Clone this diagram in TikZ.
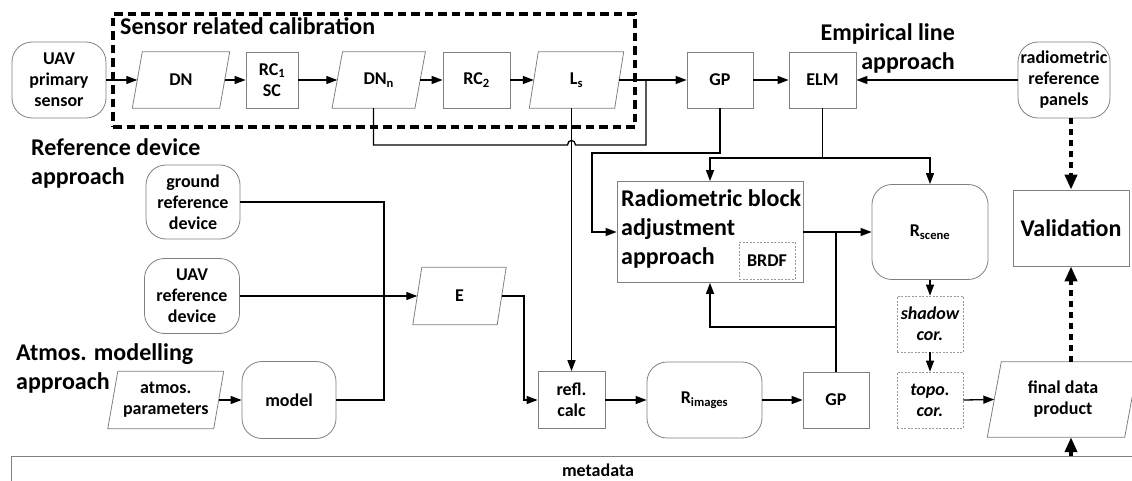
\documentclass[tikz,border=0pt]{standalone}
\usepackage{fontspec}
\setmainfont{Carlito}
\usetikzlibrary{arrows.meta,calc}
\newcommand\drawpara[2]{\draw[draw=black!50, line width=0.8pt] ($(#1.north west)+(#2,0)$) -- ($(#1.north east)+(#2,0)$) -- ($(#1.south east)-(#2,0)$) -- ($(#1.south west)-(#2,0)$) -- cycle;}
\begin{document}
\begin{tikzpicture}[x=1pt,y=-1pt,
  conn/.style={line width=1.3pt, black},
  arr/.style={conn, -{Triangle[length=11pt,width=8pt]}},
  nfont/.style={font=\fontsize{18}{21}\selectfont\bfseries},
  ifont/.style={font=\fontsize{18}{21}\selectfont\bfseries\itshape},
  hfont/.style={font=\fontsize{24}{29}\selectfont\bfseries},
  gbox/.style={draw=black!50, line width=0.8pt, rectangle, align=center, inner sep=1pt},
  rbox/.style={gbox, rounded corners=20pt},
  pbox/.style={rectangle, align=center, inner sep=1pt},
  dbox/.style={draw=black!40, dash pattern=on 2pt off 1.5pt, line width=0.7pt, rectangle, align=center, inner sep=1pt},
  bigdash/.style={line width=4pt, dash pattern=on 6pt off 5pt, -{Triangle[length=15pt,width=12pt]}},
  sensdash/.style={draw, line width=3.5pt, dash pattern=on 8.5pt off 5pt, rectangle, inner sep=0pt}
]
\useasboundingbox (0,0) rectangle (1132,481);
\clip (0,0) rectangle (1132,481);

% headings
\node[hfont,anchor=base west,inner sep=0pt] (hsens) at (120,35) {Sensor related calibration};
\node[hfont,align=right,anchor=east,inner sep=0pt] (hemp) at (955,48) {Empirical line\\approach};
\node[hfont,align=left,anchor=west,inner sep=0pt] (href) at (31,163.75) {Reference device\\approach};
\node[hfont,align=left,anchor=west,inner sep=0pt] (hatm) at (16,368) {Atmos. modelling\\approach};

% sensor box
\node[sensdash,minimum width=522pt,minimum height=113pt] (sensbox) at (374,70.5) {};

% top row
\node[rbox,nfont,minimum width=94pt,minimum height=76pt] (uav) at (59,80) {UAV\\primary\\sensor};
\node[pbox,nfont,minimum width=87pt,minimum height=56pt] (dn) at (181,80) {DN};
\node[gbox,nfont,minimum width=52pt,minimum height=56pt] (rc1) at (272,80) {RC\textsubscript{1}\\SC};
\node[pbox,nfont,minimum width=82.5pt,minimum height=56pt] (dnn) at (378.75,80) {DN\textsubscript{n}};
\node[gbox,nfont,minimum width=67pt,minimum height=56pt] (rc2) at (476.5,80) {RC\textsubscript{2}};
\node[pbox,nfont,minimum width=85pt,minimum height=56pt] (ls) at (576.5,80) {L\textsubscript{s}};
\node[gbox,nfont,minimum width=66pt,minimum height=56pt] (gp1) at (720,80) {GP};
\node[gbox,nfont,minimum width=67pt,minimum height=56pt] (elm) at (822.5,80) {ELM};
\node[rbox,nfont,minimum width=92pt,minimum height=76pt] (panels) at (1064,80) {radiometric\\reference\\panels};
\drawpara{dn}{5}
\drawpara{dnn}{5.25}
\drawpara{ls}{4.5}

% middle
\node[gbox,minimum width=186pt,minimum height=101pt] (block) at (710,232) {};
\node[hfont,align=left,inner sep=0pt,anchor=west] (blocktxt) at (621,229) {Radiometric block\\adjustment\\approach};
\node[dbox,nfont,minimum width=56pt,minimum height=37pt] (brdf) at (767,260.5) {BRDF};
\node[rbox,nfont,minimum width=116pt,minimum height=95pt] (rscene) at (930,232) {R\textsubscript{scene}};
\node[gbox,hfont,minimum width=116pt,minimum height=76pt] (val) at (1071,228) {Validation};
\node[dbox,ifont,minimum width=66pt,minimum height=56pt] (shadow) at (930,324) {shadow\\cor.};
\node[dbox,ifont,minimum width=66pt,minimum height=56pt] (topo) at (930,400) {topo.\\cor.};
\node[pbox,nfont,minimum width=137pt,minimum height=75pt] (final) at (1063,399.5) {final data\\product};
\drawpara{final}{7}

\node[rbox,nfont,minimum width=94pt,minimum height=74pt] (gref) at (193,202) {ground\\reference\\device};
\node[rbox,nfont,minimum width=95pt,minimum height=75pt] (uavref) at (192,296) {UAV\\reference\\device};
\node[pbox,nfont,minimum width=84pt,minimum height=57pt] (e) at (459.5,296) {E};
\drawpara{e}{4.5}

% bottom row
\node[gbox,nfont,minimum width=67pt,minimum height=57pt] (refl) at (571.5,400) {refl.\\calc};
\node[rbox,nfont,minimum width=115pt,minimum height=76pt] (rimg) at (704.5,400) {R\textsubscript{images}};
\node[gbox,nfont,minimum width=66pt,minimum height=56pt] (gp2) at (836,400) {GP};
\node[pbox,nfont,minimum width=105.5pt,minimum height=57pt] (atmos) at (165.75,400) {atmos.\\parameters};
\drawpara{atmos}{5}
\node[rbox,nfont,minimum width=94pt,minimum height=77pt] (model) at (289,400) {model};

% metadata
\node[draw=black!50,line width=0.8pt,rectangle,minimum width=1140pt,minimum height=60pt,anchor=north west] (metabox) at (11,456) {};
\node[nfont] (meta) at (598,470) {metadata};

% connectors top
\draw[arr] (uav.east) -- (dn.west);
\draw[arr] (dn.east) -- (rc1.west);
\draw[arr] (rc1.east) -- (dnn.west);
\draw[arr] (dnn.east) -- (rc2.west);
\draw[arr] (rc2.east) -- (ls.west);
\draw[arr] (ls.east) -- (gp1.west);
\draw[arr] (gp1.east) -- (elm.west);
\draw[arr] (panels.west) -- (elm.east);
\coordinate (j1) at (646,80);
\draw[conn] ($(dnn.south)+(-5.25,0)$) |- (567.5,145) .. controls (567.5,139) and (575.5,139) .. (575.5,145) -| (j1);
\draw[arr] (refl.north |- ls.south) -- (refl.north);
\draw[arr] (gp1.south) |- (592,153) |- (block.west);
\coordinate (j2) at (822.5,158);
\draw[conn] (elm.south) -- (j2);
\draw[arr] (j2) -| (block.north);
\draw[arr] (j2) -| (rscene.north);
\draw[arr] (block.east) -- (rscene.west);
\draw[conn] (gp2.north) -- (gp2.north |- block.east);
\coordinate (j3) at (836,327);
\draw[arr] (j3) -| (block.south);

% connectors left / bottom
\coordinate (j4) at (384,400);
\draw[conn] (gref.east) -| (j4) -- (model.east);
\draw[arr] (uavref.east) -- (e.west);
\coordinate (j5) at (524,400);
\draw[arr] (e.east) -| (j5) -- (refl.west);
\draw[arr] (atmos.east) -- (model.west);
\draw[arr] (refl.east) -- (rimg.west);
\draw[arr] (rimg.east) -- (gp2.west);
\draw[arr] (rscene.south) -- (shadow.north);
\draw[arr] (shadow.south) -- (topo.north);
\draw[arr] (topo.east) -- (final.west);

% validation
\draw[bigdash] (val.north |- panels.south) -- (val.north);
\draw[bigdash] (val.south |- final.north) -- (val.south);
\draw[bigdash] (val.south |- metabox.north) -- (val.south |- final.south);
\end{tikzpicture}
\end{document}
